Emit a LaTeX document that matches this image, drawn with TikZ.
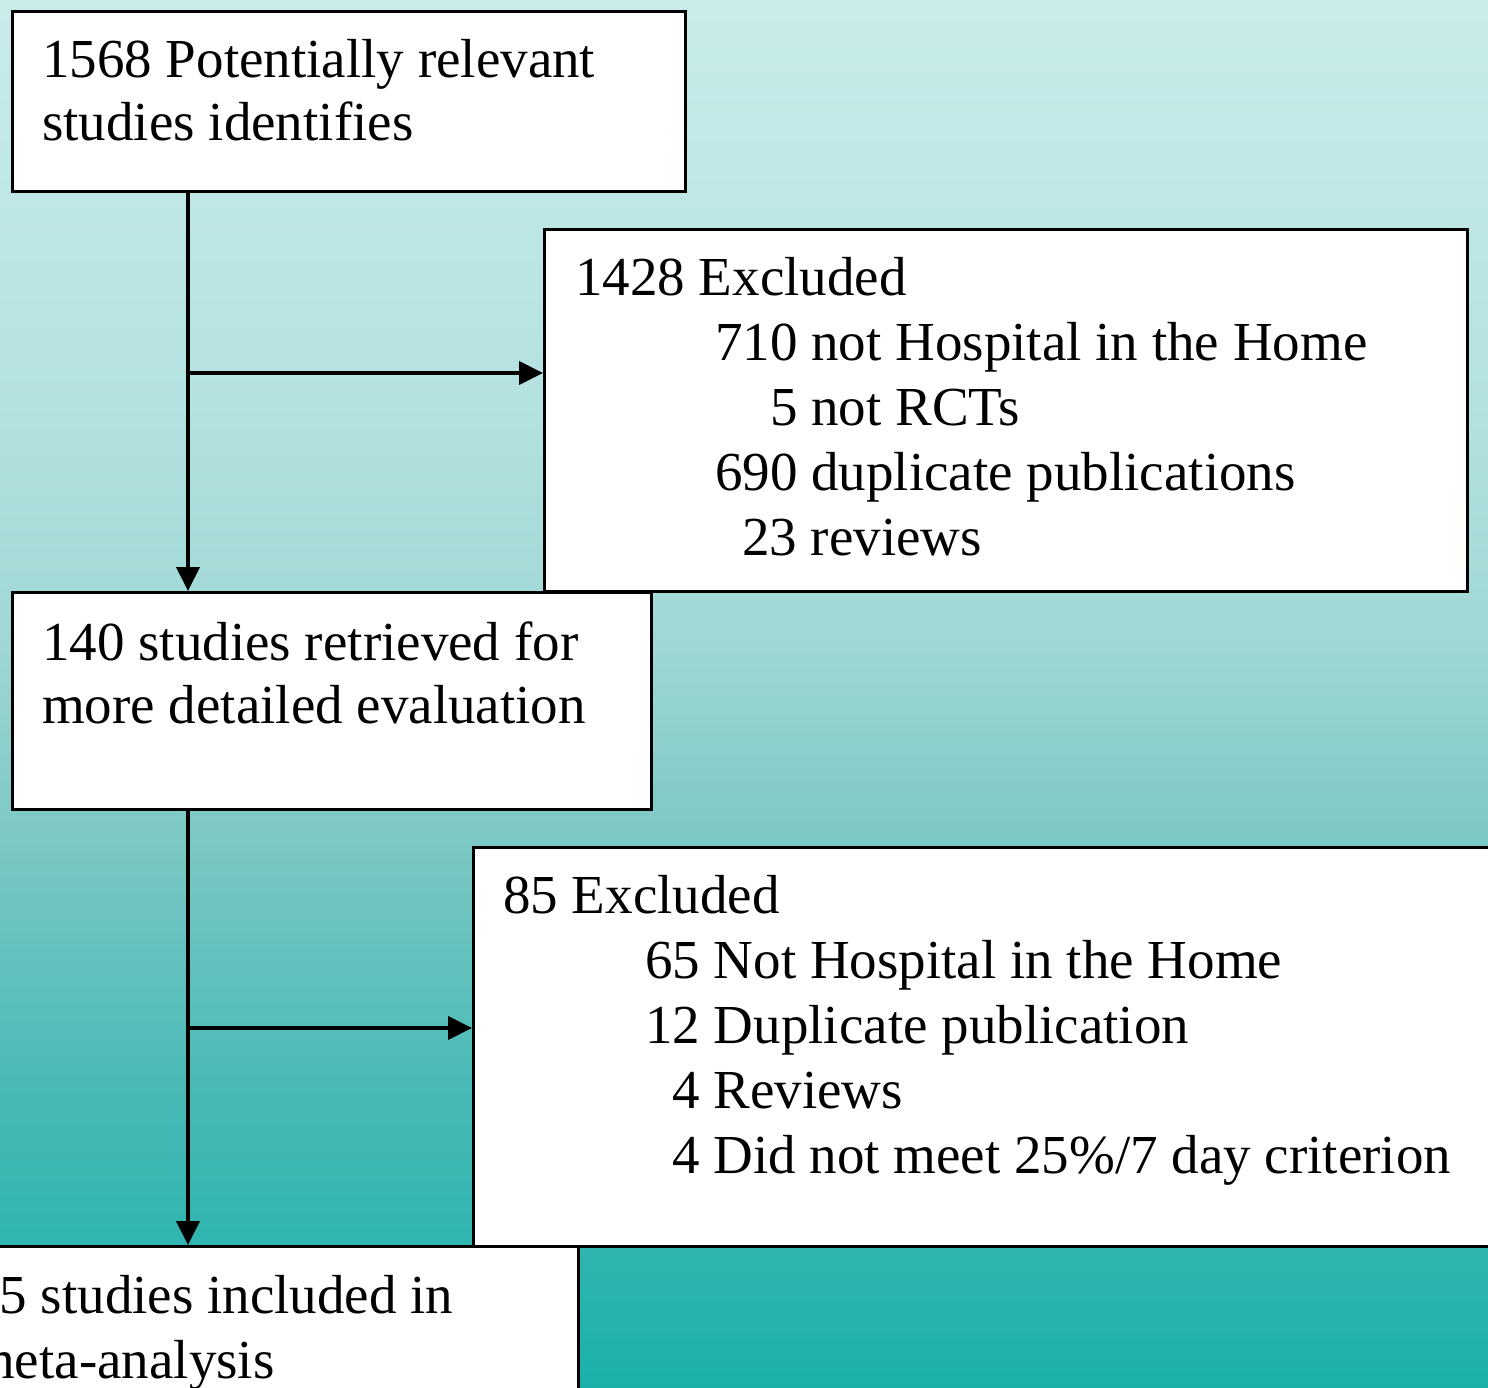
\documentclass[tikz,border=0pt]{standalone}
\usepackage{fontspec}
\setmainfont{Liberation Serif}
\usetikzlibrary{arrows.meta}
\definecolor{g0}{RGB}{26,176,170}
\definecolor{g1}{RGB}{70,185,181}
\definecolor{g2}{RGB}{122,199,195}
\definecolor{g3}{RGB}{158,215,212}
\definecolor{g4}{RGB}{180,226,224}
\definecolor{g5}{RGB}{200,236,234}
\pgfdeclareverticalshading{bgshade}{100bp}{color(0bp)=(g0); color(25bp)=(g0); color(35.35bp)=(g1); color(44.4bp)=(g2); color(51.6bp)=(g3); color(60.6bp)=(g4); color(75bp)=(g5); color(100bp)=(g5)}
\begin{document}
\begin{tikzpicture}[x=1pt,y=-1pt,
  box/.style={draw=black,line width=3pt,fill=white,rectangle,inner sep=0pt,anchor=north west},
  txt/.style={anchor=base west,inner sep=0pt,font=\fontsize{55}{65}\selectfont},
  arr/.style={line width=4pt,-{Triangle[length=24pt,width=23pt]}}]
\useasboundingbox (0,0) rectangle (1488,1388);
\clip (0,0) rectangle (1488,1388);
\shade[shading=bgshade] (0,0) rectangle (1488,1388);
% boxes
\node[box,minimum width=673pt,minimum height=180pt] (b1) at (11,10) {};
\node[box,minimum width=923pt,minimum height=362pt] (b2) at (543,228) {};
\node[box,minimum width=639pt,minimum height=217pt] (b3) at (11,591) {};
\node[box,minimum width=1030pt,minimum height=399pt] (b4) at (472,846) {};
\node[box,minimum width=620pt,minimum height=200pt] (b5) at (-43,1245) {};
% texts
\node[txt] (t1a) at (42,78) {1568 Potentially relevant};
\node[txt] (t1b) at (42,141) {studies identifies};
\node[txt] (t2a) at (575,295) {1428 Excluded};
\node[txt] (t2b) at (715,360) {710 not Hospital in the Home};
\node[txt] (t2c) at (770,425) {5 not RCTs};
\node[txt] (t2d) at (715,490) {690 duplicate publications};
\node[txt] (t2e) at (742,555) {23 reviews};
\node[txt] (t3a) at (42,660) {140 studies retrieved for};
\node[txt] (t3b) at (42,723) {more detailed evaluation};
\node[txt] (t4a) at (503,913) {85 Excluded};
\node[txt] (t4b) at (645,978) {65 Not Hospital in the Home};
\node[txt] (t4c) at (645,1043) {12 Duplicate publication};
\node[txt] (t4d) at (672,1108) {4 Reviews};
\node[txt] (t4e) at (672,1173) {4 Did not meet 25\%/7 day criterion};
\node[txt] (t5a) at (-28,1313) {55 studies included in};
\node[txt] (t5b) at (-28,1378) {meta-analysis};
% connectors
\coordinate (j1) at (188,373);
\coordinate (j2) at (188,1028);
\draw[arr] (b1.south -| j1) -- (b3.north -| j1);
\draw[arr] (j1) -- (b2.west |- j1);
\draw[arr] (b3.south -| j2) -- (b5.north -| j2);
\draw[arr] (j2) -- (b4.west |- j2);
\end{tikzpicture}
\end{document}
